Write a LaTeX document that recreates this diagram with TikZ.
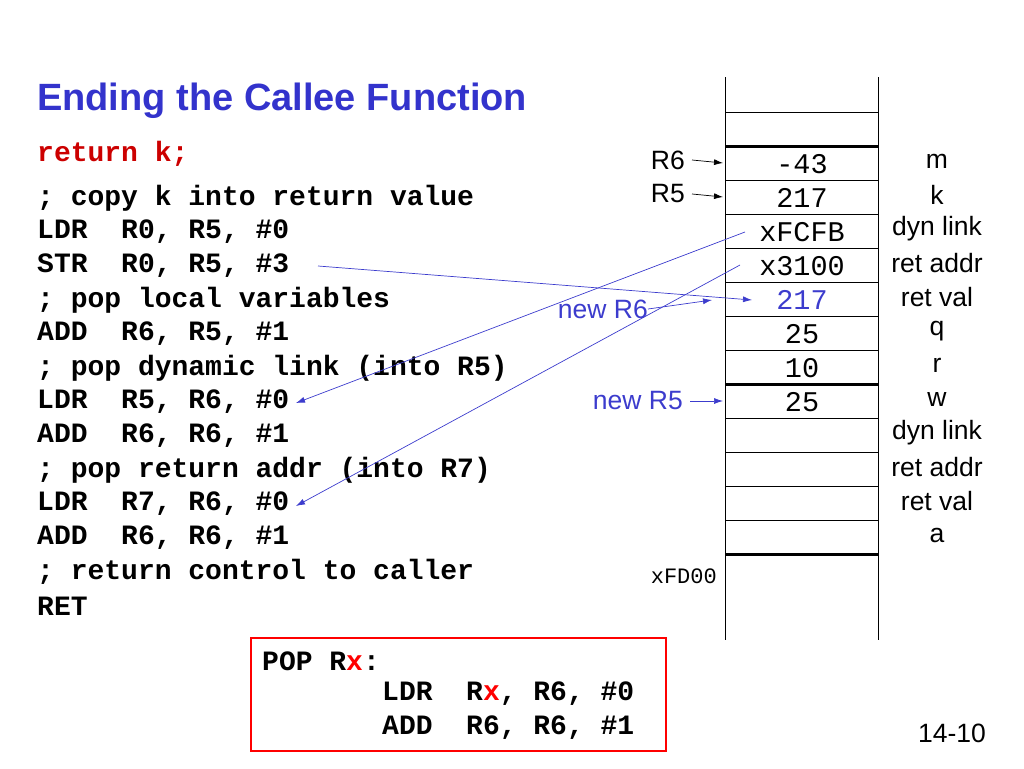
\documentclass[tikz,border=0pt]{standalone}
\usepackage{fontspec}
\usetikzlibrary{arrows.meta}
\setmainfont{Liberation Sans}
\setmonofont{Liberation Mono}
\begin{document}
\begin{tikzpicture}[x=1pt,y=-1pt,
 code/.style={anchor=west,inner sep=0,font=\ttfamily\bfseries\fontsize{28}{28}\selectfont},
 val/.style={inner sep=0,font=\ttfamily\fontsize{28.5}{28}\selectfont},
 lab/.style={inner sep=0,font=\fontsize{26.5}{27}\selectfont},
 barr/.style={-{Latex[length=9pt,width=6pt]},slate,line width=0.7pt},
 karr/.style={-{Latex[length=9pt,width=6pt]},line width=0.7pt}]
\definecolor{slate}{RGB}{60,60,205}
\definecolor{ttl}{RGB}{51,51,204}
\definecolor{redc}{RGB}{204,0,0}
\useasboundingbox (0,0) rectangle (1024,768);
\node[anchor=west,inner sep=0,text=ttl,font=\bfseries\fontsize{38}{38}\selectfont] (title) at (37,101) {Ending the Callee Function};
\node[code,text=redc] (c0) at (37,154) {return k;};
\foreach \i/\t in {1/{; copy k into return value},2/{LDR\ \ R0, R5, \#0},3/{STR\ \ R0, R5, \#3},4/{; pop local variables},5/{ADD\ \ R6, R5, \#1},6/{; pop dynamic link (into R5)},7/{LDR\ \ R5, R6, \#0},8/{ADD\ \ R6, R6, \#1},9/{; pop return addr (into R7)},10/{LDR\ \ R7, R6, \#0},11/{ADD\ \ R6, R6, \#1},12/{; return control to caller},13/{RET}}
  \node[code] (c\i) at (37,{164+34*\i}) {\t};
% stack
\draw[line width=0.8pt] (725,77) -- (725,640) (878,77) -- (878,640);
\draw (725,112) -- (878,112);
\foreach \k in {1,...,11} \draw (725,{146+34*\k}) -- (878,{146+34*\k});
\foreach \yy in {146,384,554} \draw[line width=3pt] (725,\yy) -- (878,\yy);
\foreach \k/\v/\l in {0/-43/m,1/217/k,2/xFCFB/dyn link,3/x3100/ret addr,5/25/q,6/10/r,7/25/w,8//dyn link,9//ret addr,10//ret val,11//a}{
  \node[val] (v\k) at (802,{164+34*\k}) {\v};
  \node[lab] (l\k) at (937,{161+34*\k}) {\l};}
\node[val,text=slate] (v4) at (802,300) {217};
\node[lab] (l4) at (937,297) {ret val};
\node[val,font=\ttfamily\fontsize{22}{22}\selectfont,anchor=east] (fd) at (717,576) {xFD00};
\node[lab,anchor=east] (r6) at (685,160) {R6};
\node[lab,anchor=east] (r5) at (685,194) {R5};
\node[lab,anchor=east,text=slate] (nr6) at (648,309) {new R6};
\node[lab,anchor=east,text=slate] (nr5) at (683,401) {new R5};
\coordinate (s6) at (723,163); \coordinate (s5) at (723,197); \coordinate (sn5) at (723,401);
\draw[karr] (r6.east)+(7,0) -- (s6);
\draw[karr] (r5.east)+(7,0) -- (s5);
\draw[barr] (nr5.east)+(7,0) -- (sn5);
\coordinate (sn6) at (712,300);
\draw[barr] (nr6.east) -- (sn6);
\coordinate (a1) at (318,266); \coordinate (a1e) at (752,300);
\draw[barr] (a1) -- (a1e);
\coordinate (b1) at (745,232); \coordinate (b1e) at (296,403);
\draw[barr] (b1) -- (b1e);
\coordinate (d1) at (740,265); \coordinate (d1e) at (296,506);
\draw[barr] (d1) -- (d1e);
% box
\node[draw=red,line width=1.5pt,minimum width=415,minimum height=113,anchor=north west,inner sep=0] (box) at (250,637) {};
\node[code] (p0) at (262,661) {POP R\textcolor{red}{x}:};
\node[code] (p1) at (382,694) {LDR\ \ R\textcolor{red}{x}, R6, \#0};
\node[code] (p2) at (382,728) {ADD\ \ R6, R6, \#1};
\node[lab] (pg) at (952,733) {14-10};
\end{tikzpicture}
\end{document}
